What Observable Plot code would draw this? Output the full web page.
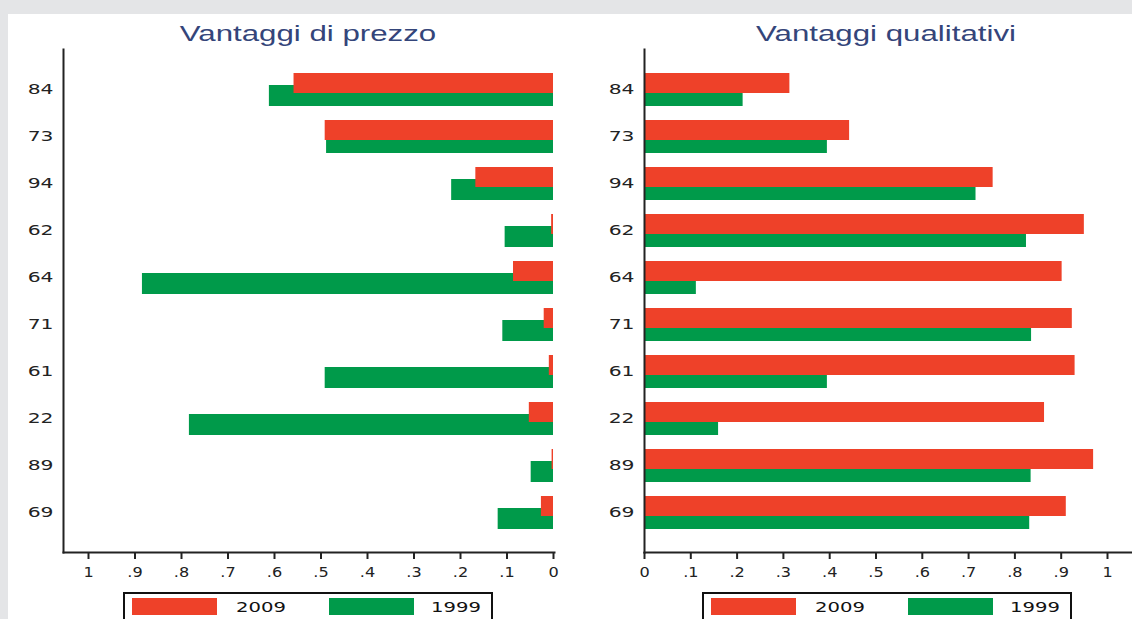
<!DOCTYPE html>
<html>
<head>
<meta charset="utf-8">
<script src="https://cdn.jsdelivr.net/npm/d3@7"></script>
<script src="https://cdn.jsdelivr.net/npm/@observablehq/plot@0.6"></script>
<style>
  html, body { margin: 0; padding: 0; background: #e4e5e7; }
  #wrap { position: relative; width: 1132px; height: 619px; overflow: hidden; }
  #panel { position: absolute; left: 8px; top: 14px; width: 1124px; height: 605px; background: #fff; }
  .chart { position: absolute; top: 0; }
  .title { position: absolute; top: 23px; width: 400px; text-align: center;
           font-family: "Liberation Sans", Arial, sans-serif; font-size: 22px; line-height: 22px;
           color: #34457a; transform: scaleX(1.42); transform-origin: center; white-space: nowrap; }
  .legend { position: absolute; top: 592px; height: 40px; width: 370px; box-sizing: border-box;
            border: 2px solid #111; background: #fff; }
  .sw { position: absolute; top: 4px; height: 17px; width: 85px; }
  .lt { position: absolute; top: 6px; font-family: "DejaVu Sans", sans-serif; font-size: 14px;
        line-height: 14px; color: #111; transform: scaleX(1.4); transform-origin: left center; white-space: nowrap; }
</style>
</head>
<body>
<div id="wrap">
  <div id="panel"></div>
</div>
<script>
// ---- data ----
const categories = ["84", "73", "94", "62", "64", "71", "61", "22", "89", "69"];
const years = ["2009", "1999"];
const yearColors = ["#ee4129", "#009a4a"];

const prezzo2009 = [0.558, 0.491, 0.167, 0.004, 0.086, 0.020, 0.009, 0.052, 0.003, 0.026];
const prezzo1999 = [0.611, 0.488, 0.219, 0.104, 0.884, 0.109, 0.491, 0.783, 0.048, 0.119];
const qual2009   = [0.314, 0.443, 0.753, 0.950, 0.902, 0.924, 0.930, 0.864, 0.970, 0.911];
const qual1999   = [0.213, 0.395, 0.716, 0.825, 0.112, 0.836, 0.395, 0.160, 0.835, 0.832];

const xTicks = [0, 0.1, 0.2, 0.3, 0.4, 0.5, 0.6, 0.7, 0.8, 0.9, 1];
const panelTitles = ["Vantaggi di prezzo", "Vantaggi qualitativi"];

// ---- helpers ----
const rows = vals => categories.map((c, i) => ({cat: c, v: vals[i]}));
const fmt = d => d === 0 ? "0" : d === 1 ? "1" : d3.format(".1f")(d).replace(/^0/, "");

function panel({v2009, v1999, domain, range, width, marginLeft, marginRight}) {
  return Plot.plot({
    width, height: 600,
    marginTop: 49, marginBottom: 48, marginLeft, marginRight,
    style: {background: "transparent", fontFamily: "DejaVu Sans, sans-serif", fontSize: "14px", color: "#222"},
    x: {domain, range, label: null},
    y: {domain: categories, paddingInner: 0.3, paddingOuter: 0.49, label: null},
    marks: [
      Plot.barX(rows(v1999), {x: "v", y: "cat", fill: yearColors[1], insetTop: 12}),
      Plot.barX(rows(v2009), {x: "v", y: "cat", fill: yearColors[0], insetBottom: 13}),
      Plot.frame({anchor: "left", stroke: "#222", strokeWidth: 2}),
      Plot.frame({anchor: "bottom", stroke: "#222", strokeWidth: 2}),
      Plot.axisX({ticks: xTicks, tickFormat: fmt, tickSize: 7, tickPadding: 8, strokeWidth: 2, fill: "#222"}),
      Plot.axisY({tickSize: 0, tickPadding: 10, fill: "#222"})
    ]
  });
}

function stretch(svg, sel, k) {
  svg.querySelectorAll(sel).forEach(t => {
    const L = t.getComputedTextLength();
    t.setAttribute("textLength", L * k);
    t.setAttribute("lengthAdjust", "spacingAndGlyphs");
  });
}

const wrap = document.getElementById("wrap");

const configs = [
  {v2009: prezzo2009, v1999: prezzo1999, domain: [1, 0], range: [88, 553], width: 580, marginLeft: 63, marginRight: 26, left: 0, titleCenter: 308, legendLeft: 123},
  {v2009: qual2009, v1999: qual1999, domain: [0, 1], range: [64, 527], width: 552, marginLeft: 64, marginRight: 0, left: 580, titleCenter: 886, legendLeft: 702}
];

configs.forEach((cfg, k) => {
  const svg = panel(cfg);
  svg.classList.add("chart");
  svg.style.left = cfg.left + "px";
  wrap.appendChild(svg);
  stretch(svg, 'g[aria-label="y-axis tick label"] text', 1.45);
  stretch(svg, 'g[aria-label="x-axis tick label"] text', 1.15);

  const t = document.createElement("div");
  t.className = "title";
  t.style.left = (cfg.titleCenter - 200) + "px";
  t.textContent = panelTitles[k];
  wrap.appendChild(t);

  const lg = document.createElement("div");
  lg.className = "legend";
  lg.style.left = cfg.legendLeft + "px";
  const swLeft = [7, 204];
  const txLeft = [111, 306];
  years.forEach((y, j) => {
    const sw = document.createElement("div");
    sw.className = "sw";
    sw.style.left = swLeft[j] + "px";
    sw.style.background = yearColors[j];
    lg.appendChild(sw);
    const tx = document.createElement("span");
    tx.className = "lt";
    tx.style.left = txLeft[j] + "px";
    tx.textContent = y;
    lg.appendChild(tx);
  });
  wrap.appendChild(lg);
});
</script>
</body>
</html>
